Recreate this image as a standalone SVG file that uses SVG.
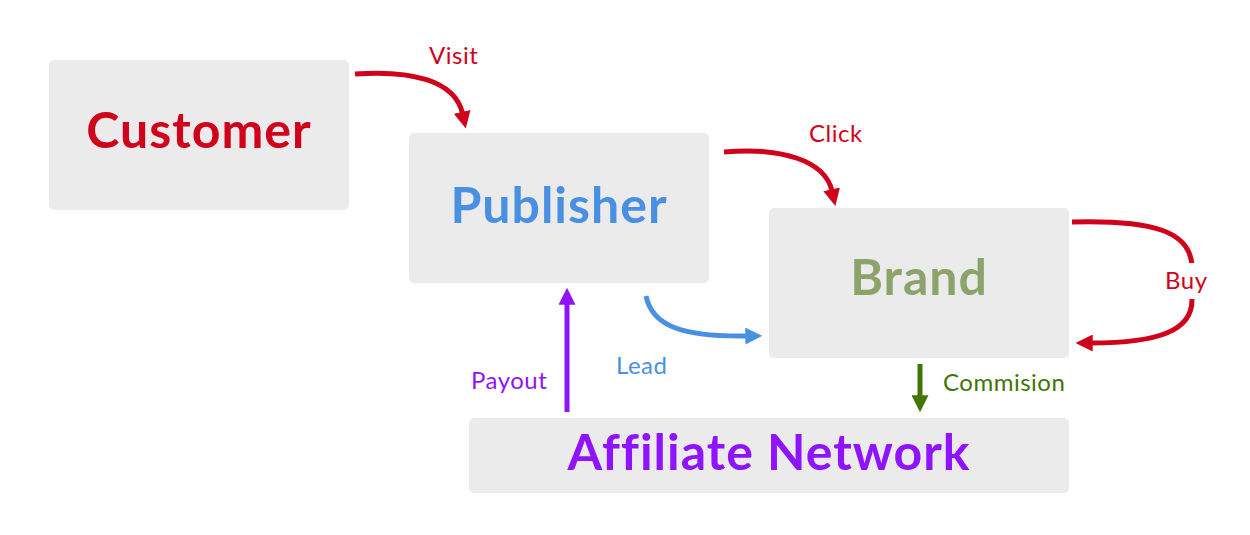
<svg xmlns="http://www.w3.org/2000/svg" width="1250" height="535" viewBox="0 0 1250 535">
<style>
.box{fill:#ebebeb}
.title{font-family:Lato,"Open Sans",sans-serif;font-weight:bold;font-size:50px;letter-spacing:1px;text-anchor:middle;font-variant-ligatures:none}
.lbl{font-family:Lato,"Open Sans",sans-serif;font-size:24px;letter-spacing:0.5px}
.c{fill:none;stroke-width:5}
</style>
<defs>
<marker id="mr" viewBox="0 0 10 10" refX="1" refY="5" markerWidth="3.4" markerHeight="3.4" orient="auto" markerUnits="strokeWidth"><path d="M0,0L10,5L0,10z" fill="#d0021b"/></marker>
<marker id="mb" viewBox="0 0 10 10" refX="1" refY="5" markerWidth="3.4" markerHeight="3.4" orient="auto" markerUnits="strokeWidth"><path d="M0,0L10,5L0,10z" fill="#4a90e2"/></marker>
<marker id="mp" viewBox="0 0 10 10" refX="1" refY="5" markerWidth="3.4" markerHeight="3.4" orient="auto" markerUnits="strokeWidth"><path d="M0,0L10,5L0,10z" fill="#9013fe"/></marker>
<marker id="mg" viewBox="0 0 10 10" refX="1" refY="5" markerWidth="3.4" markerHeight="3.4" orient="auto" markerUnits="strokeWidth"><path d="M0,0L10,5L0,10z" fill="#417505"/></marker>
</defs>
<rect width="1250" height="535" fill="#ffffff"/>
<g id="customer"><rect class="box" x="49" y="60" width="300" height="150" rx="5"/><text class="title" x="199" y="148" fill="#d0021b">Customer</text></g>
<g id="publisher"><rect class="box" x="409" y="133" width="300" height="150" rx="5"/><text class="title" x="559" y="223" fill="#4a90e2">Publisher</text></g>
<g id="brand"><rect class="box" x="769" y="208" width="300" height="150" rx="5"/><text class="title" x="919" y="295" fill="#8ca46b">Brand</text></g>
<g id="network"><rect class="box" x="469" y="418" width="600" height="75" rx="5"/><text class="title" x="769" y="470" fill="#9013fe">Affiliate Network</text></g>
<g id="connectors">
<path class="c" stroke="#d0021b" d="M355,74 C410,70 455,80 462.5,113.5" marker-end="url(#mr)"/>
<path class="c" stroke="#d0021b" d="M724,152 C780,147 825,160 832,191" marker-end="url(#mr)"/>
<path class="c" stroke="#d0021b" d="M1072,222 C1150,220 1192,230 1192,268 L1192,300 C1192,330 1160,343 1091,343" marker-end="url(#mr)"/>
<path class="c" stroke="#4a90e2" d="M646,296 C652,325 680,337 747,336" marker-end="url(#mb)"/>
<path class="c" stroke="#9013fe" d="M567,412 L567,303" marker-end="url(#mp)"/>
<path class="c" stroke="#417505" d="M920,364 L920,397" marker-end="url(#mg)"/>
<rect x="1160" y="263" width="52" height="36" fill="#ffffff"/>
<text class="lbl" x="429" y="64" fill="#d0021b">Visit</text>
<text class="lbl" x="809" y="142" fill="#d0021b">Click</text>
<text class="lbl" x="1165" y="289" fill="#d0021b">Buy</text>
<text class="lbl" x="616" y="374" fill="#4a90e2">Lead</text>
<text class="lbl" x="471" y="389" fill="#9013fe">Payout</text>
<text class="lbl" x="943" y="391" fill="#417505">Commision</text>
</g>
</svg>
